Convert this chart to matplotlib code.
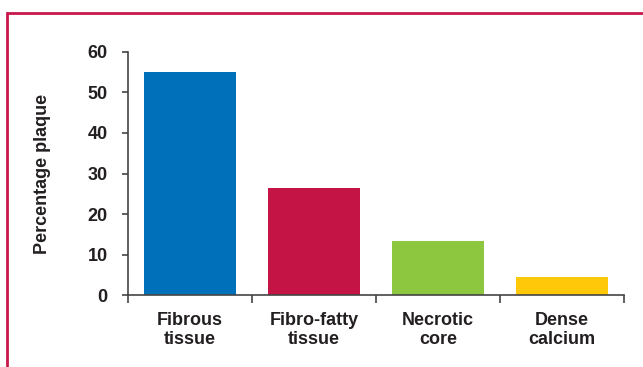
import matplotlib
matplotlib.use('Agg')
import matplotlib.pyplot as plt
from matplotlib.lines import Line2D

plt.rcParams['font.family'] = ['Liberation Sans', 'DejaVu Sans']
plt.rcParams['font.weight'] = 'bold'

# plaque composition
categories = ['Fibrous\ntissue', 'Fibro-fatty\ntissue', 'Necrotic\ncore', 'Dense\ncalcium']
values = [55.0, 26.4, 13.4, 4.5]
colors = ['#0070BA', '#C41345', '#8DC63F', '#FFC90A']
yticks = [0, 10, 20, 30, 40, 50, 60]

W, H = 643, 367
fig = plt.figure(figsize=(W / 100, H / 100), dpi=100)
ax = fig.add_axes([128 / W, 1 - 295.3 / H, (624 - 128) / W, (295.3 - 51.7) / H])

x = list(range(len(categories)))
ax.bar(x, values, width=0.734, color=colors, zorder=2)

ax.set_xlim(-0.5, len(categories) - 0.5)
ax.set_ylim(0, 60)
ax.set_yticks(yticks)
ax.set_yticklabels([str(v) for v in yticks], fontsize=13, fontweight='bold', color='#231F20')

# boundary ticks on the x axis, labels sit on minor ticks
ax.set_xticks([i - 0.5 for i in range(len(categories) + 1)])
ax.set_xticklabels([])
ax.set_xticks(x, minor=True)
ax.set_xticklabels(categories, minor=True, fontsize=13, fontweight='bold',
                   color='#231F20', linespacing=1.12)
ax.tick_params(axis='x', which='minor', length=0, pad=12)
ax.tick_params(axis='x', which='major', direction='out', length=6, width=1.2, color='#444444')
ax.tick_params(axis='y', direction='out', length=4.5, width=1.2, color='#444444', pad=10)

for s in ['top', 'right']:
    ax.spines[s].set_visible(False)
for s in ['left', 'bottom']:
    ax.spines[s].set_color('#444444')
    ax.spines[s].set_linewidth(1.2)

ax.set_ylabel('Percentage plaque', fontsize=13, fontweight='bold', color='#231F20')
ax.yaxis.set_label_coords(-0.155, 0.5)

# crimson frame along top and left
frame_x = [6.5 / W, 6.5 / W, 1.0]
frame_y = [0.0, 1 - 12.5 / H, 1 - 12.5 / H]
fig.add_artist(Line2D(frame_x, frame_y, transform=fig.transFigure,
                      color='#C8174A', linewidth=2.0, solid_joinstyle='miter'))

fig.savefig('out.png', dpi=100)
